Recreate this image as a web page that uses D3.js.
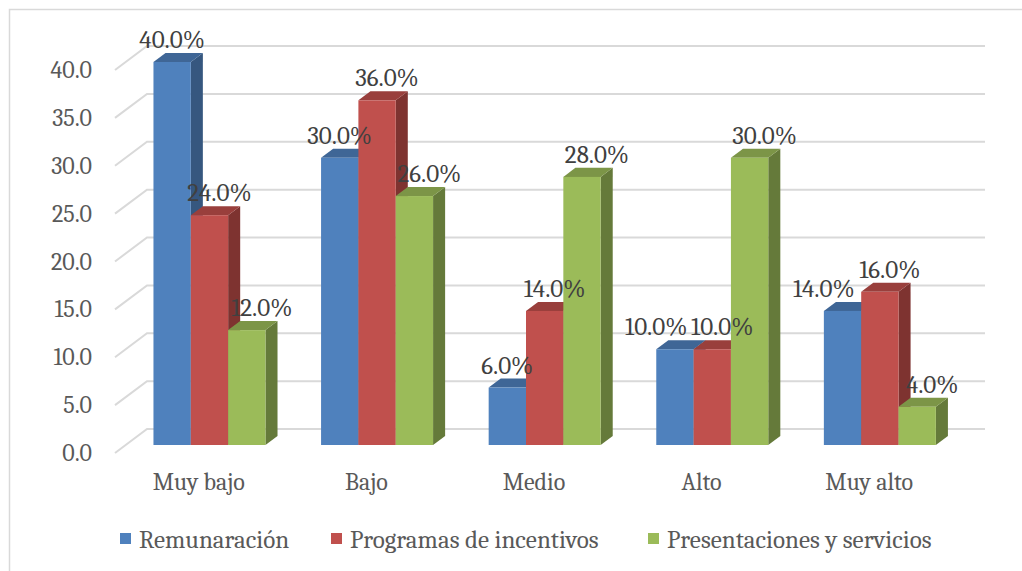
<!DOCTYPE html>
<html>
<head>
<meta charset="utf-8">
<script src="https://cdn.jsdelivr.net/npm/d3@7"></script>
<style>
  html, body { margin: 0; padding: 0; background: #fff; }
  svg { display: block; font-family: Cambria, "Liberation Serif", serif; }
</style>
</head>
<body>
<svg id="chart" width="1022" height="571"></svg>
<script>
const categories = ["Muy bajo", "Bajo", "Medio", "Alto", "Muy alto"];
const seriesNames = ["Remunaración", "Programas de incentivos", "Presentaciones y servicios"];
const remuneracion = [40, 30, 6, 10, 14];
const programas = [24, 36, 14, 10, 16];
const presentaciones = [12, 26, 28, 30, 4];
const yTicks = [0, 5, 10, 15, 20, 25, 30, 35, 40];

const seriesValues = [remuneracion, programas, presentaciones];
const colors = [
  { front: "#4F81BD", top: "#3F6696", side: "#36577F" },
  { front: "#C0504D", top: "#993F3C", side: "#7E3330" },
  { front: "#9BBB59", top: "#7C9547", side: "#657A3A" }
];

const svg = d3.select("#chart");

// chart border
svg.append("rect").attr("x", 9.5).attr("y", 9.5).attr("width", 1030).attr("height", 600)
  .attr("fill", "none").attr("stroke", "#d9d9d9").attr("stroke-width", 1.5);

// 3D geometry
const depth = { dx: 32, dy: -24 };
const front0 = 1 / 3, back0 = 0.71; // bar depth fractions

const x = d3.scaleBand().domain(categories).range([115, 953]).padding(0);
const xs = d3.scaleBand().domain(d3.range(3)).range([0, 112]).padding(0);
const y = d3.scaleLinear().domain([0, 40]).range([453, 70]);

// gridlines
const grid = svg.append("g");
yTicks.forEach(t => {
  const yf = y(t);
  grid.append("path")
    .attr("d", `M115,${yf}L${115 + depth.dx},${yf + depth.dy}L985,${yf + depth.dy}`)
    .attr("fill", "none").attr("stroke", "#d9d9d9").attr("stroke-width", 2);
});

// y axis labels
svg.append("g").selectAll("text").data(yTicks).join("text")
  .attr("x", 92).attr("y", d => y(d) + 8)
  .attr("text-anchor", "end")
  .attr("font-size", 24).attr("fill", "#595959")
  .text(d => d.toFixed(1));

// bars
const bars = [];
categories.forEach((c, ci) => {
  seriesValues.forEach((vals, si) => {
    bars.push({ c, ci, si, v: vals[ci] });
  });
});

const fdx = depth.dx * front0, fdy = depth.dy * front0;
const bdx = depth.dx * back0, bdy = depth.dy * back0;
const labelShift = [0, 10, 15];
const barG = svg.append("g");
bars.forEach(b => {
  const x0 = x(b.c) + x.bandwidth() / 2 - 56 + xs(b.si) + fdx;
  const x1 = x0 + xs.bandwidth();
  const yb = y(0) + fdy;
  const yt = y(b.v) + fdy;
  const ox = bdx - fdx, oy = bdy - fdy;
  const col = colors[b.si];
  barG.append("path")
    .attr("d", `M${x1},${yt}L${x1 + ox},${yt + oy}L${x1 + ox},${yb + oy}L${x1},${yb}Z`)
    .attr("fill", col.side);
  barG.append("path")
    .attr("d", `M${x0},${yt}L${x0 + ox},${yt + oy}L${x1 + ox},${yt + oy}L${x1},${yt}Z`)
    .attr("fill", col.top);
  barG.append("rect")
    .attr("x", x0).attr("y", yt).attr("width", x1 - x0).attr("height", yb - yt)
    .attr("fill", col.front);
  b.lx = (x0 + x1) / 2 + labelShift[b.si];
  b.ly = yt + oy - 5;
});

// simple label collision avoidance inside each category (shift left label leftwards)
const LW = 66, LH = 24;
categories.forEach((c, ci) => {
  const ls = bars.filter(b => b.ci === ci);
  for (let i = ls.length - 2; i >= 0; i--) {
    const a = ls[i], b = ls[i + 1];
    if (Math.abs(a.ly - b.ly) < LH && b.lx - a.lx < LW) a.lx = b.lx - LW;
  }
});

// data labels
svg.append("g").selectAll("text").data(bars).join("text")
  .attr("x", d => d.lx).attr("y", d => d.ly)
  .attr("text-anchor", "middle")
  .attr("font-size", 25).attr("fill", "#404040")
  .text(d => d.v.toFixed(1) + "%");

// category labels
svg.append("g").selectAll("text").data(categories).join("text")
  .attr("x", d => x(d) + x.bandwidth() / 2).attr("y", 490)
  .attr("text-anchor", "middle")
  .attr("font-size", 24).attr("fill", "#595959")
  .text(d => d);

// legend
const legendX = [120, 331, 648];
const leg = svg.append("g");
seriesNames.forEach((n, i) => {
  leg.append("rect").attr("x", legendX[i]).attr("y", 533).attr("width", 11).attr("height", 11)
    .attr("fill", colors[i].front);
  leg.append("text").attr("x", legendX[i] + 19).attr("y", 548)
    .attr("font-size", 25).attr("fill", "#595959").text(n);
});
</script>
</body>
</html>
